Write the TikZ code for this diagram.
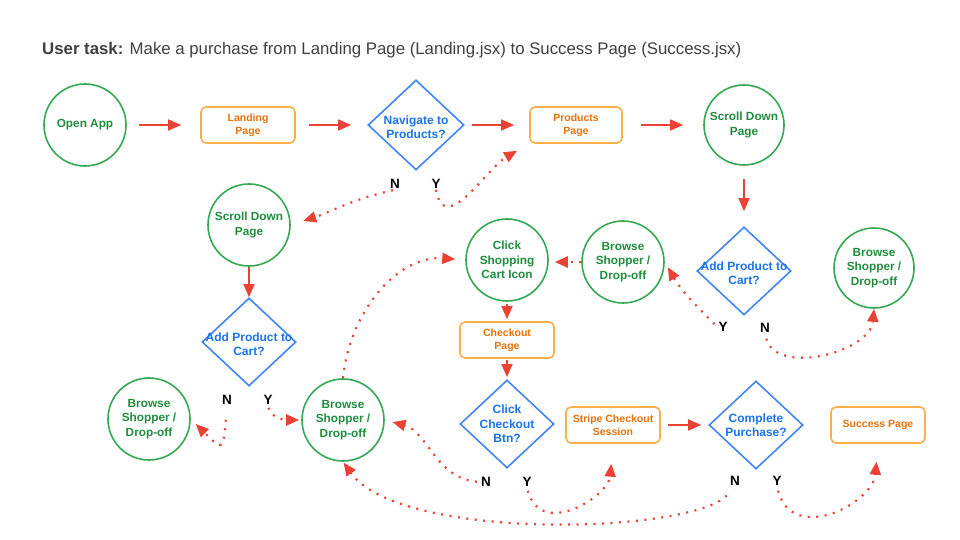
\documentclass[tikz,border=0pt]{standalone}
\usepackage{fontspec}
\setmainfont{Liberation Sans}
\usetikzlibrary{arrows.meta,shapes.geometric,calc}
\definecolor{gstroke}{HTML}{34A853}
\definecolor{gtext}{HTML}{1E8E3E}
\definecolor{ostroke}{HTML}{FBB04C}
\definecolor{otext}{HTML}{E8710A}
\definecolor{bstroke}{HTML}{4285F4}
\definecolor{btext}{HTML}{1A73E8}
\definecolor{arr}{HTML}{EA4335}
\definecolor{ttl}{HTML}{404040}
\tikzset{
  circ/.style={circle, draw=gstroke, line width=1.6pt, minimum size=82pt, inner sep=0pt, align=center, text=gtext, font=\fontsize{11.8}{14.3}\selectfont\bfseries},
  box/.style={rectangle, rounded corners=5pt, draw=ostroke, line width=1.6pt, minimum width=94pt, minimum height=36pt, align=center, text=otext, font=\fontsize{10.5}{13.3}\selectfont\bfseries},
  dia/.style={diamond, draw=bstroke, line width=1.6pt, minimum width=94pt, minimum height=88pt, inner sep=0pt},
  dtext/.style={align=center, text=btext, font=\fontsize{12}{14.3}\selectfont\bfseries},
  yn/.style={font=\fontsize{13.5}{14}\selectfont\bfseries, inner sep=1pt},
  sarr/.style={draw=arr, line width=1.6pt, -{Triangle[length=13pt,width=11pt]}},
  darr/.style={draw=arr, line width=2.2pt, dash pattern=on 2pt off 6.5pt, -{Triangle[length=13pt,width=11pt]}}
}
\begin{document}
\begin{tikzpicture}[x=1pt,y=1pt]
\useasboundingbox (0,0) rectangle (960,540);
\node[anchor=base west, inner sep=0pt, text=ttl, font=\fontsize{16.8}{18}\selectfont] (title) at (42,485) {\textbf{User task:} Make a purchase from Landing Page (Landing.jsx) to Success Page (Success.jsx)};
% row 1
\node[circ] (open) at (85,415) {Open App};
\node[box] (land) at (248,415) {Landing\\Page};
\node[dia, minimum width=96pt, minimum height=90pt, label={[dtext,yshift=-2pt]center:Navigate to\\Products?}] (nav) at (416,415) {};
\node[box, minimum width=92pt] (prod) at (576,415) {Products\\Page};
\node[circ, minimum size=80pt] (sdR) at (744,415) {Scroll Down\\Page};
% right column
\node[dia, label={[dtext,yshift=-2pt]center:Add Product to\\Cart?}] (addR) at (744,269) {};
\node[circ, minimum size=80pt] (bR) at (874,272) {Browse\\Shopper /\\Drop-off};
\node[circ] (bM) at (623,278) {Browse\\Shopper /\\Drop-off};
\node[circ] (click) at (507,280) {Click\\Shopping\\Cart Icon};
\node[box] (chk) at (507,200) {Checkout\\Page};
\node[dia, label={[dtext]center:Click\\Checkout\\Btn?}] (btn) at (507,116) {};
\node[box] (stripe) at (613,115) {Stripe Checkout\\Session};
\node[dia, label={[dtext]center:Complete\\Purchase?}] (comp) at (756,115) {};
\node[box] (succ) at (878,115) {Success Page};
% left column
\node[circ] (sdL) at (249,315) {Scroll Down\\Page};
\node[dia, label={[dtext,yshift=-2pt]center:Add Product to\\Cart?}] (addL) at (249,198) {};
\node[circ] (bL) at (149,121) {Browse\\Shopper /\\Drop-off};
\node[circ] (bC) at (343,120) {Browse\\Shopper /\\Drop-off};
% labels
\node[yn] (n1) at (395,356) {N};
\node[yn] (y1) at (436,356) {Y};
\node[yn] (yR) at (723,213) {Y};
\node[yn] (nR) at (765,212) {N};
\node[yn] (nL) at (227,140) {N};
\node[yn] (yL) at (268,140) {Y};
\node[yn] (nB) at (486,58) {N};
\node[yn] (yB) at (527,58) {Y};
\node[yn] (nC) at (735,59) {N};
\node[yn] (yC) at (777,59) {Y};
% solid arrows
\draw[sarr, shorten <=12pt, shorten >=19pt] (open) -- (land);
\draw[sarr, shorten <=13pt, shorten >=16pt] (land) -- (nav);
\draw[sarr, shorten <=7pt, shorten >=15pt] (nav) -- (prod);
\draw[sarr, shorten <=18pt, shorten >=20pt] (prod) -- (sdR);
\draw[sarr, shorten <=13pt, shorten >=15pt] (sdR) -- (addR);
\draw[sarr] (sdL) -- (addL);
\draw[sarr, shorten <=2pt, shorten >=2pt] (click) -- (chk);
\draw[sarr, shorten <=1pt, shorten >=2pt] (chk) -- (btn);
\draw[sarr, shorten <=7pt, shorten >=7pt] (stripe) -- (comp);
% dotted arrows
\draw[darr, shorten <=2pt, shorten >=13pt] (n1.south) to[out=192,in=18] (sdL.east);
\draw[darr, shorten >=14pt] (y1.south) to[out=-80,in=210,looseness=1.2] (prod.south west);
\draw[darr, shorten <=4pt, shorten >=6pt] (yR.west) to[out=135,in=-60] (bM.east);
\draw[darr, shorten <=5pt] (nR.south) to[out=-75,in=-95] (bR.south);
\draw[darr, shorten >=6pt] (bM.west) -- (bM.west -| click.east);
\draw[darr, shorten >=10pt] (bC.north) .. controls +(7,68) and +(-67,5) .. (click.west);
\draw[darr, shorten <=14pt, shorten >=7pt] (nL.south) to[out=-95,in=-45,looseness=3] (bL.east);
\draw[darr, shorten <=2pt, shorten >=2pt] (yL.south) to[out=-75,in=180] (bC.west);
\draw[darr, shorten <=3pt, shorten >=8pt] (nB.west) to[out=175,in=-15] (bC.east);
\draw[darr, shorten <=3pt, shorten >=20pt] (yB.south) to[out=-75,in=-95,looseness=1.4] (stripe.south);
\draw[darr, shorten <=12pt, shorten >=1pt] (nC.south) .. controls +(-45,-47) and +(57,-80) .. (bC.south);
\draw[darr, shorten <=4pt, shorten >=18pt] (yC.south) to[out=-75,in=-95,looseness=1.4] (succ.south);
\end{tikzpicture}
\end{document}
